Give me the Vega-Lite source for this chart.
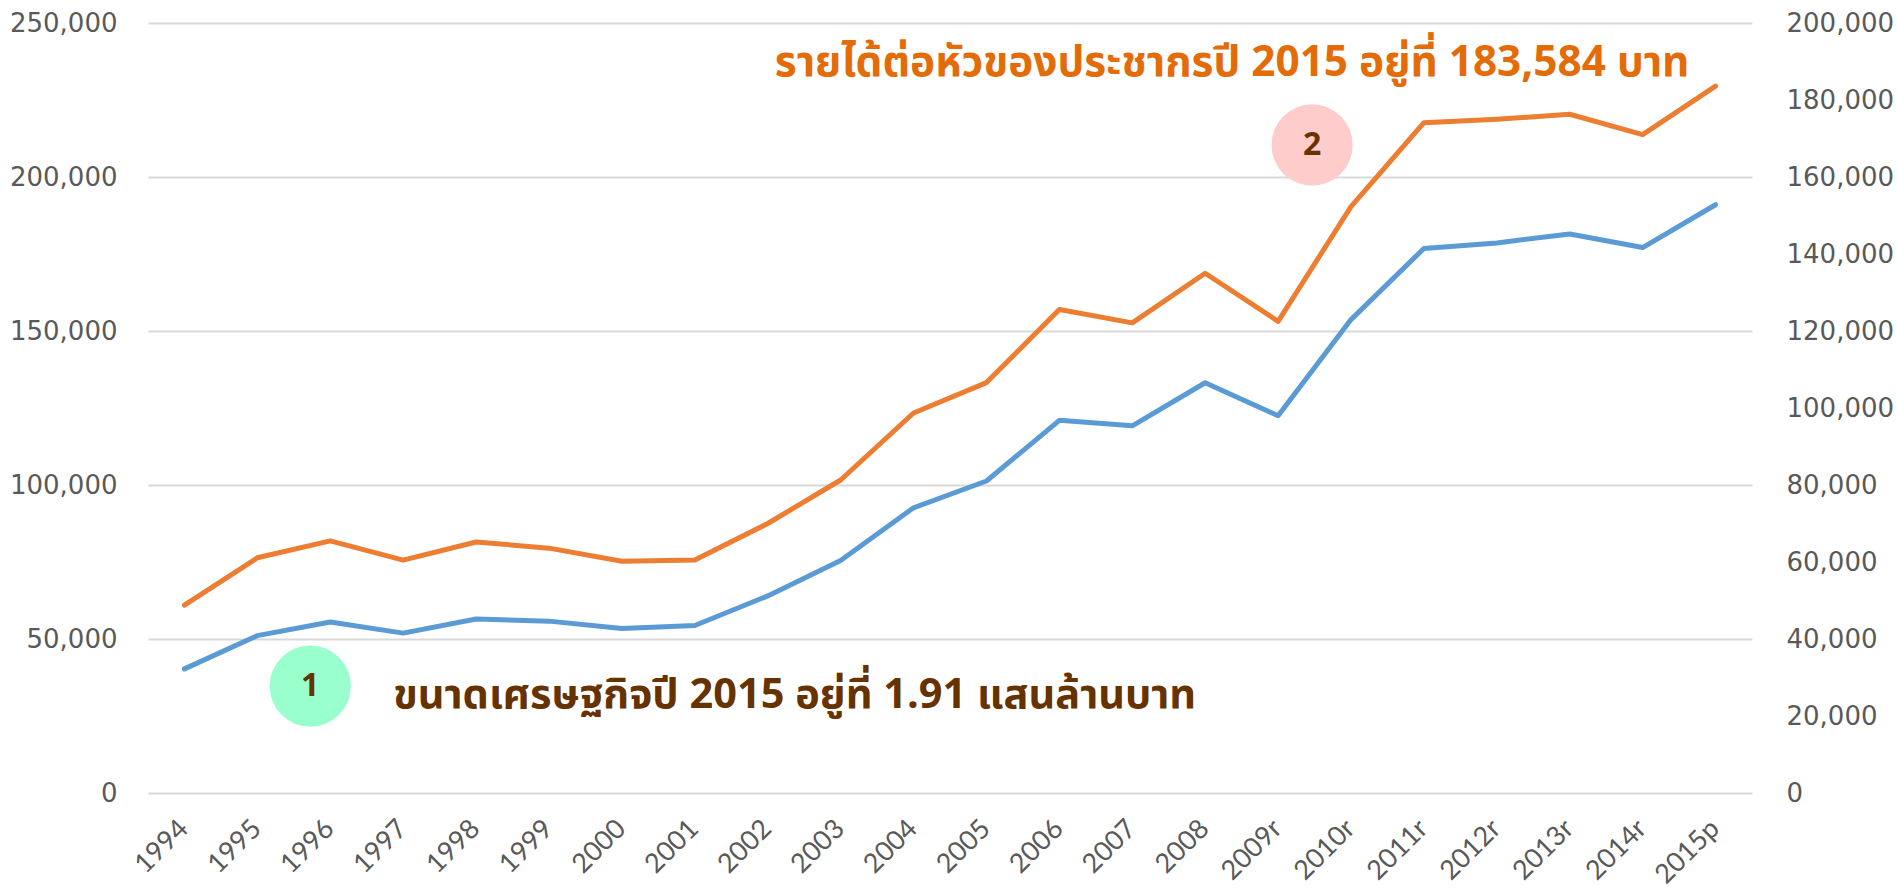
{
  "$schema": "https://vega.github.io/schema/vega-lite/v6.json",
  "width": 1604,
  "height": 770,
  "autosize": {"type": "none"},
  "padding": {"left": 148, "top": 23, "right": 146, "bottom": 97},
  "background": "white",
  "config": {"view": {"stroke": null}},
  "datasets": {
    "main": [
      {"year": "1994", "gdp": 40300, "income": 48800},
      {"year": "1995", "gdp": 51100, "income": 61100},
      {"year": "1996", "gdp": 55500, "income": 65500},
      {"year": "1997", "gdp": 51900, "income": 60500},
      {"year": "1998", "gdp": 56500, "income": 65200},
      {"year": "1999", "gdp": 55800, "income": 63600},
      {"year": "2000", "gdp": 53400, "income": 60200},
      {"year": "2001", "gdp": 54400, "income": 60500},
      {"year": "2002", "gdp": 64000, "income": 70000},
      {"year": "2003", "gdp": 75500, "income": 81300},
      {"year": "2004", "gdp": 92600, "income": 98700},
      {"year": "2005", "gdp": 101300, "income": 106600},
      {"year": "2006", "gdp": 121000, "income": 125600},
      {"year": "2007", "gdp": 119200, "income": 122100},
      {"year": "2008", "gdp": 133200, "income": 135000},
      {"year": "2009r", "gdp": 122500, "income": 122500},
      {"year": "2010r", "gdp": 153700, "income": 152300},
      {"year": "2011r", "gdp": 176800, "income": 174100},
      {"year": "2012r", "gdp": 178600, "income": 175000},
      {"year": "2013r", "gdp": 181500, "income": 176300},
      {"year": "2014r", "gdp": 177100, "income": 171000},
      {"year": "2015p", "gdp": 191000, "income": 183584}
    ],
    "notes": [
      {"id": "c1", "year": "1996", "v": 34700, "label": "1"},
      {"id": "c2", "year": "2009r", "v": 210400, "label": "2"},
      {"id": "t1", "year": "1997", "v": 31500, "label": "ขนาดเศรษฐกิจปี 2015 อยู่ที่ 1.91 แสนล้านบาท"},
      {"id": "t2", "year": "2002", "v": 237000, "label": "รายได้ต่อหัวของประชากรปี 2015 อยู่ที่ 183,584 บาท"}
    ]
  },
  "resolve": {"scale": {"y": "independent"}},
  "layer": [
    {
      "data": {"name": "main"},
      "mark": {"type": "line", "color": "#5B9BD5", "strokeWidth": 5, "strokeCap": "round", "strokeJoin": "round"},
      "encoding": {
        "x": {
          "field": "year", "type": "ordinal", "sort": null,
          "scale": {"type": "point", "padding": 0.5},
          "axis": {
            "title": null, "domain": false, "ticks": false, "grid": false,
            "labelAngle": -45, "labelFont": "Lato", "labelFontSize": 27,
            "labelColor": "#595959", "labelPadding": 22, "labelOffset": -10
          }
        },
        "y": {
          "field": "gdp", "type": "quantitative",
          "scale": {"domain": [0, 250000], "nice": false},
          "axis": {
            "title": null, "orient": "left", "domain": false, "ticks": false,
            "values": [0, 50000, 100000, 150000, 200000, 250000],
            "format": ",d", "labelFont": "DejaVu Sans", "labelFontSize": 26,
            "labelColor": "#595959", "labelPadding": 31,
            "grid": true, "gridColor": "#D9D9D9", "gridWidth": 2
          }
        }
      }
    },
    {
      "data": {"name": "main"},
      "mark": {"type": "line", "color": "#ED7D31", "strokeWidth": 5, "strokeCap": "round", "strokeJoin": "round"},
      "encoding": {
        "x": {"field": "year", "type": "ordinal", "sort": null},
        "y": {
          "field": "income", "type": "quantitative",
          "scale": {"domain": [0, 200000], "nice": false},
          "axis": {
            "title": null, "orient": "right", "domain": false, "ticks": false,
            "values": [0, 20000, 40000, 60000, 80000, 100000, 120000, 140000, 160000, 180000, 200000],
            "format": ",d", "labelFont": "DejaVu Sans", "labelFontSize": 26,
            "labelColor": "#595959", "labelPadding": 34, "grid": false
          }
        }
      }
    },
    {
      "data": {"name": "notes"},
      "transform": [{"filter": "datum.id == 'c1'"}],
      "layer": [
        {"mark": {"type": "point", "shape": "circle", "filled": true, "color": "#99FFCC", "opacity": 1, "size": 6600}},
        {"mark": {"type": "text", "font": "Noto Sans", "fontWeight": "bold", "fontSize": 32, "color": "#663300", "align": "center", "baseline": "middle"},
         "encoding": {"text": {"field": "label"}}}
      ],
      "encoding": {
        "x": {"field": "year", "type": "ordinal", "sort": null},
        "xOffset": {"value": -20},
        "y": {"field": "v", "type": "quantitative", "scale": {"domain": [0, 250000], "nice": false}, "axis": null}
      }
    },
    {
      "data": {"name": "notes"},
      "transform": [{"filter": "datum.id == 'c2'"}],
      "layer": [
        {"mark": {"type": "point", "shape": "circle", "filled": true, "color": "#FFCCCC", "opacity": 1, "size": 6600}},
        {"mark": {"type": "text", "font": "Noto Sans", "fontWeight": "bold", "fontSize": 32, "color": "#663300", "align": "center", "baseline": "middle"},
         "encoding": {"text": {"field": "label"}}}
      ],
      "encoding": {
        "x": {"field": "year", "type": "ordinal", "sort": null},
        "xOffset": {"value": 34},
        "y": {"field": "v", "type": "quantitative", "scale": {"domain": [0, 250000], "nice": false}, "axis": null}
      }
    },
    {
      "data": {"name": "notes"},
      "transform": [{"filter": "datum.id == 't1'"}],
      "mark": {"type": "text", "font": "Noto Sans Thai", "fontWeight": "bold", "fontSize": 41.5, "color": "#663300", "align": "left", "baseline": "middle", "dx": -10},
      "encoding": {
        "x": {"field": "year", "type": "ordinal", "sort": null},
        "y": {"field": "v", "type": "quantitative", "scale": {"domain": [0, 250000], "nice": false}, "axis": null},
        "text": {"field": "label"}
      }
    },
    {
      "data": {"name": "notes"},
      "transform": [{"filter": "datum.id == 't2'"}],
      "mark": {"type": "text", "font": "Noto Sans Thai", "fontWeight": "bold", "fontSize": 42.3, "color": "#E36C09", "align": "left", "baseline": "middle", "dx": 7},
      "encoding": {
        "x": {"field": "year", "type": "ordinal", "sort": null},
        "y": {"field": "v", "type": "quantitative", "scale": {"domain": [0, 250000], "nice": false}, "axis": null},
        "text": {"field": "label"}
      }
    }
  ]
}
